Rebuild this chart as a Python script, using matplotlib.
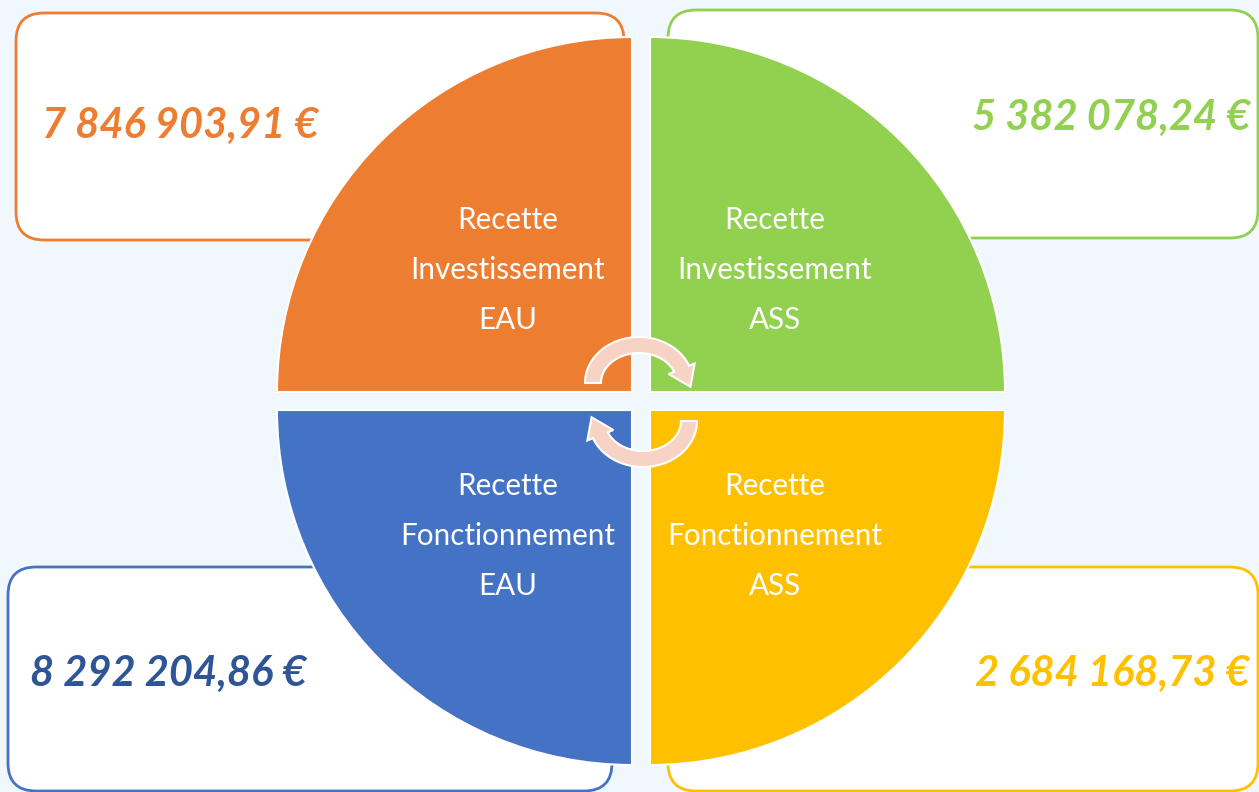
import matplotlib
matplotlib.use("Agg")
import matplotlib.pyplot as plt
from matplotlib.patches import Wedge, FancyBboxPatch, Polygon
import numpy as np

# ---- data ----
categories = ["Recette\nInvestissement\nEAU", "Recette\nInvestissement\nASS",
              "Recette\nFonctionnement\nEAU", "Recette\nFonctionnement\nASS"]
values = [7846903.91, 5382078.24, 8292204.86, 2684168.73]
value_labels = ["7 846 903,91 €", "5 382 078,24 €", "8 292 204,86 €", "2 684 168,73 €"]
quad_colors = ["#ED7D31", "#92D050", "#4472C4", "#FFC000"]
text_colors = ["#ED7D31", "#92D050", "#2F5597", "#FFC000"]

W, H = 1259, 792
fig = plt.figure(figsize=(W / 100, H / 100), dpi=100)
fig.patch.set_facecolor("#F1F8FD")
ax = fig.add_axes([0, 0, 1, 1])
ax.set_xlim(0, W)
ax.set_ylim(H, 0)
ax.axis("off")
ax.set_facecolor("#F1F8FD")

# boxes (x0, y0, x1, y1) in pixel coords
boxes = [(16, 13, 624, 240), (668, 10, 1258, 238), (8, 567, 612, 791), (668, 567, 1258, 791)]
for (x0, y0, x1, y1), c in zip(boxes, quad_colors):
    ax.add_patch(FancyBboxPatch((x0, y0), x1 - x0, y1 - y0,
                                boxstyle="round,pad=0,rounding_size=28",
                                fc="white", ec=c, lw=2.0, zorder=1))

# quadrants
cx, cy, g, r = 641, 401, 9, 355
centers = [(cx - g, cy - g), (cx + g, cy - g), (cx - g, cy + g), (cx + g, cy + g)]
angles = [(180, 270), (270, 360), (90, 180), (0, 90)]
for (qx, qy), (t1, t2), c in zip(centers, angles, quad_colors):
    ax.add_patch(Wedge((qx, qy), r, t1, t2, fc=c, ec="white", lw=1.5, zorder=2))

# quadrant labels
label_pos = [(508, 270), (775, 270), (508, 536), (775, 536)]
for (lx, ly), txt in zip(label_pos, categories):
    ax.text(lx, ly, txt, ha="center", va="center", color="white",
            fontsize=21.3, family="Lato", linespacing=1.95, zorder=5)

# values
val_pos = [(42, 126, "left"), (1250, 118, "right"), (30, 674, "left"), (1250, 674, "right")]
for (vx, vy, ha), txt, c in zip(val_pos, value_labels, text_colors):
    ax.text(vx, vy, txt, ha=ha, va="center", color=c, fontsize=30,
            family="Lato", weight="bold", style="italic", zorder=5)

# circular arrows
def arc_arrow(ccx, ccy, rx, ry, t_start, t_end, half_w=8, head_w=14, head_len=20):
    ts = np.radians(np.linspace(t_start, t_end, 60))
    outer = [(ccx + (rx + half_w) * np.cos(t), ccy - (ry + half_w) * np.sin(t)) for t in ts]
    inner = [(ccx + (rx - half_w) * np.cos(t), ccy - (ry - half_w) * np.sin(t)) for t in ts[::-1]]
    te = ts[-1]
    dx = rx * np.sin(te)
    dy = ry * np.cos(te)
    n = np.hypot(dx, dy)
    dx, dy = dx / n, dy / n
    mx, my = ccx + rx * np.cos(te), ccy - ry * np.sin(te)
    ox, oy = ccx + (rx + head_w) * np.cos(te), ccy - (ry + head_w) * np.sin(te)
    ix, iy = ccx + (rx - head_w) * np.cos(te), ccy - (ry - head_w) * np.sin(te)
    tip = (mx + head_len * dx, my + head_len * dy)
    pts = outer + [(ox, oy), tip, (ix, iy)] + inner
    ax.add_patch(Polygon(pts, closed=True, fc="#F7D3C6", ec="white", lw=1.5, zorder=4))

arc_arrow(639, 383, 46, 38, 180, 22)
arc_arrow(643, 421, 46, 38, 0, -158)

fig.savefig("out.png", dpi=100, facecolor=fig.get_facecolor())
